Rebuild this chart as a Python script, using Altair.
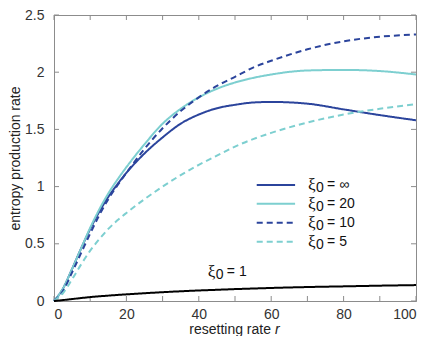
import altair as alt
import pandas as pd

# ---- data ----
R = [0, 2.5, 5, 7.5, 10, 12.5, 15, 17.5, 20, 25, 30, 35, 40, 45, 50, 55, 60, 70, 80, 90, 100]
XI_INF = [0, 0.11, 0.28, 0.46, 0.63, 0.78, 0.91, 1.02, 1.12, 1.29, 1.43, 1.55, 1.63, 1.685, 1.715, 1.735, 1.74, 1.725, 1.675, 1.625, 1.58]
XI_20 = [0, 0.11, 0.28, 0.46, 0.64, 0.80, 0.94, 1.06, 1.17, 1.37, 1.55, 1.68, 1.78, 1.855, 1.91, 1.95, 1.98, 2.015, 2.02, 2.01, 1.98]
XI_10 = [0, 0.09, 0.25, 0.42, 0.59, 0.75, 0.89, 1.01, 1.12, 1.33, 1.51, 1.66, 1.78, 1.88, 1.96, 2.04, 2.10, 2.20, 2.27, 2.31, 2.33]
XI_5 = [0, 0.07, 0.19, 0.32, 0.44, 0.54, 0.63, 0.705, 0.77, 0.89, 1.00, 1.10, 1.19, 1.27, 1.35, 1.415, 1.47, 1.56, 1.63, 1.68, 1.72]
XI_1 = [0, 0.008, 0.017, 0.026, 0.034, 0.041, 0.047, 0.053, 0.058, 0.068, 0.077, 0.085, 0.092, 0.098, 0.104, 0.109, 0.114, 0.122, 0.128, 0.134, 0.139]

SERIES = ["inf", "20", "10", "5", "1"]
LEGEND_TEXT = ["= \u221e", "= 20", "= 10", "= 5"]
X_TICKS = [0, 10, 20, 30, 40, 50, 60, 70, 80, 90, 100]
X_LABELS = [0, 20, 40, 60, 80, 100]
Y_TICKS = [0, 0.5, 1, 1.5, 2, 2.5]

# ---- style ----
COLORS = ["#2b449c", "#7dcfd0", "#2b449c", "#7dcfd0", "#000000"]
DASHES = [[1, 0], [1, 0], [6, 4], [6, 4], [1, 0]]
W, H = 362, 286
FRAME = "#8c8c8c"
SANS = "Liberation Sans"
SERIF = "Liberation Serif"

values = [XI_INF, XI_20, XI_10, XI_5, XI_1]
rows = []
for s, vals in zip(SERIES, values):
    for r, v in zip(R, vals):
        rows.append({"series": s, "r": r, "v": v})
df = pd.DataFrame(rows)

xscale = alt.Scale(domain=[0, 100], nice=False)
yscale = alt.Scale(domain=[0, 2.5], nice=False)
cscale = alt.Scale(domain=SERIES, range=COLORS)
dscale = alt.Scale(domain=SERIES, range=DASHES)

xaxis = alt.Axis(values=X_LABELS, ticks=False, grid=False, labelPadding=6, title=None)
yaxis = alt.Axis(values=Y_TICKS, ticks=False, grid=False, labelPadding=10, format="~g",
                 title="entropy production rate", titlePadding=2)


def X(field):
    return alt.X(field, type="quantitative", scale=xscale, axis=xaxis)


def Y(field):
    return alt.Y(field, type="quantitative", scale=yscale, axis=yaxis)


lines = alt.Chart(df).mark_line(strokeWidth=2, interpolate="monotone").encode(
    x=X("r"), y=Y("v"),
    color=alt.Color("series:N", scale=cscale, legend=None),
    strokeDash=alt.StrokeDash("series:N", scale=dscale, legend=None),
    order=alt.Order("r:Q"),
)

# ---- inward ticks (MATLAB style) ----
xt = pd.DataFrame({"t": X_TICKS})
yt = pd.DataFrame({"t": Y_TICKS})
tick_bottom = alt.Chart(xt).mark_rule(color=FRAME, strokeWidth=1).encode(
    x=X("t"), y=alt.value(H), y2=alt.value(H - 5))
tick_top = alt.Chart(xt).mark_rule(color=FRAME, strokeWidth=1).encode(
    x=X("t"), y=alt.value(0), y2=alt.value(5))
tick_left = alt.Chart(yt).mark_rule(color=FRAME, strokeWidth=1).encode(
    y=Y("t"), x=alt.value(0), x2=alt.value(5))
tick_right = alt.Chart(yt).mark_rule(color=FRAME, strokeWidth=1).encode(
    y=Y("t"), x=alt.value(W), x2=alt.value(W - 5))

# ---- legend (drawn in plot) ----
LEG_X0, LEG_X1, LEG_TX = 56.0, 66.6, 70.2
LEG_Y0, LEG_STEP = 1.014, 0.165
leg = pd.DataFrame({
    "series": SERIES[:4],
    "label": LEGEND_TEXT,
    "x0": [LEG_X0] * 4,
    "x1": [LEG_X1] * 4,
    "tx": [LEG_TX] * 4,
    "y": [LEG_Y0 - i * LEG_STEP for i in range(4)],
})
leg_lines = alt.Chart(leg).mark_rule(strokeWidth=2).encode(
    x=X("x0"), x2="x1", y=Y("y"),
    color=alt.Color("series:N", scale=cscale, legend=None),
    strokeDash=alt.StrokeDash("series:N", scale=dscale, legend=None),
)
leg_xi = alt.Chart(leg).mark_text(font=SERIF, fontSize=17, align="left", baseline="middle",
                                  color="#111").encode(x=X("tx"), y=Y("y"), text=alt.value("\u03be"))
leg_0 = alt.Chart(leg).mark_text(font=SANS, fontSize=14, align="left", baseline="middle",
                                 dx=8, dy=3, color="#111").encode(x=X("tx"), y=Y("y"), text=alt.value("0"))
leg_lab = alt.Chart(leg).mark_text(font=SANS, fontSize=14, align="left", baseline="middle",
                                   dx=19, color="#111").encode(x=X("tx"), y=Y("y"), text="label:N")

# ---- annotation for xi0 = 1 ----
ann = pd.DataFrame({"x": [42.5], "y": [0.253], "label": ["= 1"]})
ann_xi = alt.Chart(ann).mark_text(font=SERIF, fontSize=17, align="left", baseline="middle",
                                  color="#111").encode(x=X("x"), y=Y("y"), text=alt.value("\u03be"))
ann_0 = alt.Chart(ann).mark_text(font=SANS, fontSize=14, align="left", baseline="middle",
                                 dx=8, dy=3, color="#111").encode(x=X("x"), y=Y("y"), text=alt.value("0"))
ann_lab = alt.Chart(ann).mark_text(font=SANS, fontSize=14, align="left", baseline="middle",
                                   dx=19, color="#111").encode(x=X("x"), y=Y("y"), text="label:N")

# ---- x axis title with italic r ----
xt_main = alt.Chart(ann).mark_text(font=SANS, fontSize=14, align="right", baseline="alphabetic",
                                   color="#222").encode(x=alt.value(217), y=alt.value(H + 33),
                                                        text=alt.value("resetting rate"))
xt_r = alt.Chart(ann).mark_text(font=SANS, fontSize=14, fontStyle="italic", align="left",
                                baseline="alphabetic", color="#222").encode(
    x=alt.value(221), y=alt.value(H + 33), text=alt.value("r"))

chart = alt.layer(
    tick_bottom, tick_top, tick_left, tick_right,
    lines, leg_lines, leg_xi, leg_0, leg_lab, ann_xi, ann_0, ann_lab, xt_main, xt_r,
).properties(
    width=W, height=H,
    autosize=alt.AutoSizeParams(type="none"),
    padding={"left": 46, "top": 7, "right": 12, "bottom": 35},
).configure_view(
    stroke=FRAME, strokeWidth=1,
).configure_axis(
    domainColor=FRAME, domainWidth=1,
    labelFont=SANS, labelFontSize=14, labelColor="#333",
    titleFont=SANS, titleFontSize=14, titleColor="#222", titleFontWeight="normal",
)

chart.save("out.html", embed_options={"renderer": "svg", "actions": False})
